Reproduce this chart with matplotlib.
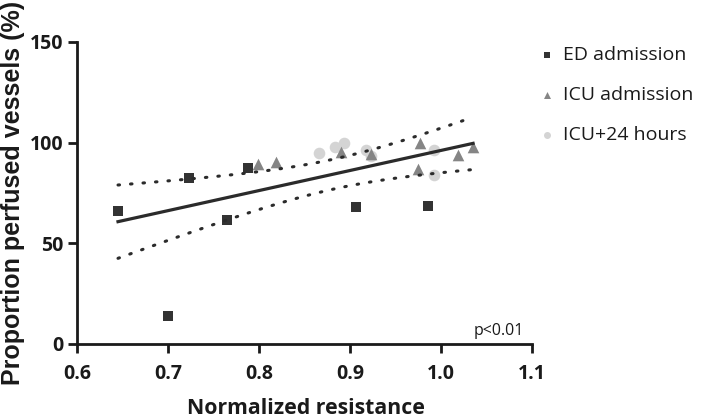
import numpy as np
import matplotlib
matplotlib.use("Agg")
import matplotlib.pyplot as plt

plt.rcParams['font.family'] = ['Open Sans', 'DejaVu Sans']

# ED admission (squares)
ed_x = [0.645, 0.700, 0.723, 0.765, 0.788, 0.906, 0.985]
ed_y = [66.0, 14.0, 82.2, 61.4, 87.3, 68.0, 68.3]
# ICU admission (triangles)
icu_x = [0.799, 0.818, 0.890, 0.923, 0.977, 0.975, 1.018, 1.035]
icu_y = [89.4, 90.3, 95.4, 94.4, 99.8, 87.0, 94.1, 97.9]
# ICU+24 hours (circles)
icu24_x = [0.866, 0.883, 0.893, 0.917, 0.923, 0.992, 0.992]
icu24_y = [94.7, 98.0, 99.7, 96.2, 93.2, 96.5, 83.8]

x_ticks = [0.6, 0.7, 0.8, 0.9, 1.0, 1.1]
x_ticklabels = ['0.6', '0.7', '0.8', '0.9', '1.0', '1.1']
y_ticks = [0, 50, 100, 150]

fig = plt.figure(figsize=(7.08, 4.19), dpi=100)
ax = fig.add_axes([0.1088, 0.179, 0.643, 0.7208])

ax.scatter(ed_x, ed_y, marker='s', s=60, color='#333333', zorder=3, label='ED admission', linewidths=0)
ax.scatter(icu_x, icu_y, marker='^', s=70, color='#858585', zorder=3, label='ICU admission', linewidths=0)
ax.scatter(icu24_x, icu24_y, marker='o', s=70, color='#d4d4d4', zorder=2, label='ICU+24 hours', linewidths=0)

# linear regression over all points with 95% confidence band
X = np.array(ed_x + icu_x + icu24_x)
Y = np.array(ed_y + icu_y + icu24_y)
n = len(X)
slope, icpt = np.polyfit(X, Y, 1)
resid = Y - (slope * X + icpt)
s_err = np.sqrt(np.sum(resid ** 2) / (n - 2))
t = 2.086
xx = np.linspace(X.min(), X.max(), 100)
yy = slope * xx + icpt
se = s_err * np.sqrt(1.0 / n + (xx - X.mean()) ** 2 / np.sum((X - X.mean()) ** 2))
ax.plot(xx, yy, color='#2b2b2b', lw=2.3, zorder=4)
ax.plot(xx, yy + t * se, color='#2b2b2b', lw=2.2, ls=(0, (0.5, 3.6)), dash_capstyle='round', zorder=4)
ax.plot(xx, yy - t * se, color='#2b2b2b', lw=2.2, ls=(0, (0.5, 3.6)), dash_capstyle='round', zorder=4)

ax.set_xlim(0.6, 1.1)
ax.set_ylim(0, 150)
ax.set_xticks(x_ticks)
ax.set_xticklabels(x_ticklabels)
ax.set_yticks(y_ticks)

for side in ['top', 'right']:
    ax.spines[side].set_visible(False)
for side in ['left', 'bottom']:
    ax.spines[side].set_linewidth(2.0)
    ax.spines[side].set_color('#1a1a1a')
ax.tick_params(direction='out', length=6.5, width=2.0, color='#1a1a1a',
               labelsize=14, labelcolor='#1a1a1a')
ax.tick_params(axis='x', pad=8)
ax.tick_params(axis='y', pad=3)
for lab in ax.get_xticklabels() + ax.get_yticklabels():
    lab.set_fontweight('bold')

ax.set_xlabel('Normalized resistance', fontsize=15.3, fontweight='bold', color='#1a1a1a')
ax.xaxis.label.set_va('baseline')
ax.xaxis.set_label_coords(0.502, -0.232)
ax.set_ylabel('Proportion perfused vessels (%)', fontsize=18, fontweight='bold', color='#1a1a1a',
              family=['Liberation Sans', 'DejaVu Sans'])
ax.yaxis.label.set_va('top')
ax.yaxis.set_label_coords(-0.166, 0.5)

ax.text(0.981, 0.03, 'p<0.01', transform=ax.transAxes, ha='right', va='baseline', fontsize=11.5, color='#1a1a1a')

leg = ax.legend(loc='upper left', bbox_to_anchor=(0.99, 1.012), frameon=False, fontsize=14,
                handletextpad=0.2, handlelength=1.2, labelspacing=1.12, markerscale=0.6, borderaxespad=0)
for txt in leg.get_texts():
    txt.set_color('#1a1a1a')

fig.savefig('out.png', dpi=100)
